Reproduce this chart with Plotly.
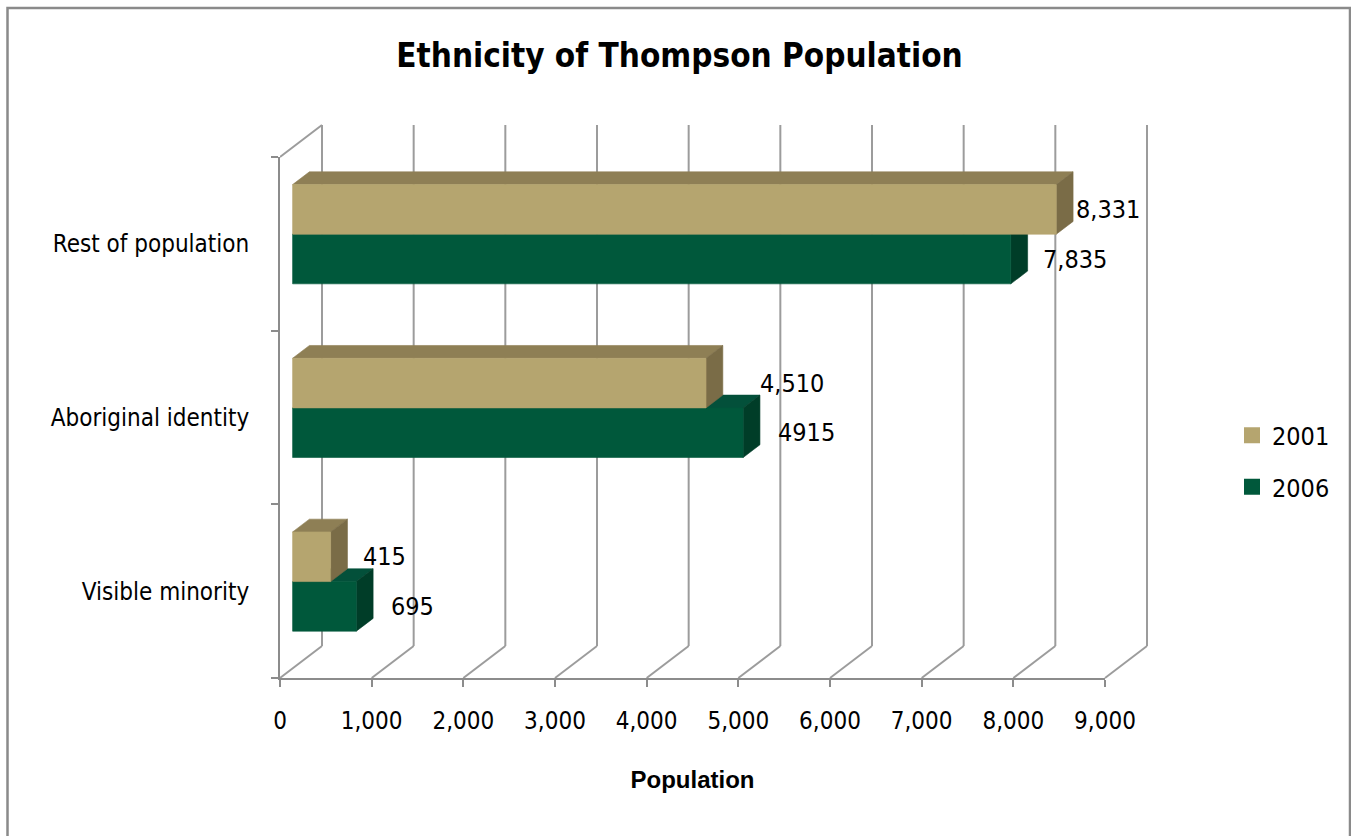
import plotly.graph_objects as go

# ---- data -------------------------------------------------------------
categories = ["Visible minority", "Aboriginal identity", "Rest of population"]
series_names = ["2001", "2006"]
pop_2001 = [415, 4510, 8331]
pop_2006 = [695, 4915, 7835]
labels_2001 = ["415", "4,510", "8,331"]
labels_2006 = ["695", "4915", "7,835"]
x_ticks = list(range(0, 9001, 1000))

# ---- styling ----------------------------------------------------------
W, H = 1351, 836
NARROW = "DejaVu Sans Condensed, Liberation Sans Narrow, Arial Narrow, sans-serif"
BOLD = "Liberation Sans, Arial, sans-serif"
GRID = "#9c9c9c"
AXIS = "#8c8c8c"
FACES = {
    "2001": dict(front="#B5A56F", top="#8E7F55", side="#7A6C47"),
    "2006": dict(front="#00583B", top="#03503A", side="#003D28"),
}
# horizontal nudge (px) of each value label from its bar end
NUDGE = {"2001": [30, 52, 18], "2006": [33, 33, 30]}

# pixel frame of the front (value) axes
X0_PX, X9_PX = 280, 1105       # value 0 and 9000
YB_PX, YT_PX = 678, 157        # bottom and top of the category axis
PXV = (X9_PX - X0_PX) / 9000.0  # px per population unit
PXC = (YB_PX - YT_PX) / 3.0     # px per category

# oblique depth of the 3-D box, in data units
DEPTH_PX = (42, 32)
DX = DEPTH_PX[0] / PXV
DY = DEPTH_PX[1] / PXC
BAR_FRONT, BAR_DEPTH = 0.3, 0.4   # fraction of box depth
BAR_H = 0.5 / 1.75                 # gap width 75 %

# drawing subplot extents (px)
A_L, A_R, A_T, A_B = 280, 1160, 118, 690

fig = go.Figure()

def poly(xs, ys, color):
    fig.add_trace(go.Scatter(
        x=xs + [xs[0]], y=ys + [ys[0]], mode="lines", fill="toself",
        fillcolor=color, line=dict(color=color, width=0.6),
        hoverinfo="skip", showlegend=False, xaxis="x", yaxis="y"))

def seg(x0, y0, x1, y1):
    fig.add_trace(go.Scatter(
        x=[x0, x1], y=[y0, y1], mode="lines",
        line=dict(color=GRID, width=2), hoverinfo="skip",
        showlegend=False, xaxis="x", yaxis="y"))

# back wall gridlines and floor diagonals
for v in x_ticks:
    seg(v + DX, DY, v + DX, 3 + DY)
    seg(v, 0, v + DX, DY)
# left wall top edge
seg(0, 3, DX, 3 + DY)

# bars: each is a front face plus a top and a right side face
fx = BAR_FRONT * DX
fy = BAR_FRONT * DY
bx = BAR_DEPTH * DX
by = BAR_DEPTH * DY
series = [("2006", pop_2006, labels_2006, -1), ("2001", pop_2001, labels_2001, 0)]
annotations = []
for name, vals, labs, slot in series:
    c = FACES[name]
    for i, v in enumerate(vals):
        y0 = i + 0.5 + fy + slot * BAR_H
        y1 = y0 + BAR_H
        xs, xe = fx, fx + v
        poly([xs, xe, xe + bx, xs + bx], [y1, y1, y1 + by, y1 + by], c["top"])
        poly([xe, xe + bx, xe + bx, xe], [y0, y0 + by, y1 + by, y1], c["side"])
        poly([xs, xe, xe, xs], [y0, y0, y1, y1], c["front"])
        annotations.append(dict(
            x=xe, y=(y0 + y1) / 2, xref="x", yref="y", text=labs[i],
            showarrow=False, xanchor="left", yanchor="middle",
            xshift=NUDGE[name][i], font=dict(family=NARROW, size=25, color="#000")))

# legend entries
for name in series_names:
    fig.add_trace(go.Scatter(
        x=[None], y=[None], mode="markers", name=name, legendgroup=name,
        marker=dict(symbol="square", size=16, color=FACES[name]["front"]),
        xaxis="x", yaxis="y"))

# empty trace so the front axes subplot is drawn
fig.add_trace(go.Scatter(x=[None], y=[None], xaxis="x2", yaxis="y2",
                         showlegend=False, hoverinfo="skip"))

fig.update_layout(
    width=W, height=H,
    margin=dict(l=0, r=0, t=0, b=0, autoexpand=False),
    paper_bgcolor="white", plot_bgcolor="rgba(0,0,0,0)",
    title=dict(text="<b>Ethnicity of Thompson Population</b>",
               x=679.5 / W, xanchor="center", y=1 - 55 / H, yanchor="middle",
               font=dict(family=NARROW, size=33, color="#000")),
    xaxis=dict(domain=[A_L / W, A_R / W], automargin=False,
               range=[0, (A_R - X0_PX) / PXV], visible=False, fixedrange=True),
    yaxis=dict(domain=[1 - A_B / H, 1 - A_T / H], automargin=False,
               range=[-(A_B - YB_PX) / PXC, (YB_PX - A_T) / PXC],
               visible=False, fixedrange=True),
    xaxis2=dict(domain=[X0_PX / W, X9_PX / W], range=[0, 9000], anchor="y2",
                automargin=False,
                showline=True, linecolor=AXIS, linewidth=2,
                ticks="outside", ticklen=7, tickwidth=2, tickcolor=AXIS,
                ticklabelstandoff=13,
                tickmode="array", tickvals=x_ticks, tickformat=",",
                tickfont=dict(family=NARROW, size=24, color="#000"),
                showgrid=False, zeroline=False, fixedrange=True,
                title=dict(text="<b>Population</b>", standoff=37,
                           font=dict(family=BOLD, size=24, color="#000"))),
    yaxis2=dict(domain=[1 - YB_PX / H, 1 - YT_PX / H], range=[0, 3], anchor="x2",
                automargin=False,
                showline=True, linecolor=AXIS, linewidth=2,
                tickmode="array", tickvals=[0.5, 1.5, 2.5], ticktext=categories,
                ticks="outside", ticklen=24, tickcolor="rgba(0,0,0,0)",
                tickfont=dict(family=NARROW, size=24, color="#000"),
                minor=dict(tickmode="array", tickvals=[0, 1, 2, 3],
                           ticks="outside", ticklen=7, tickwidth=2, tickcolor=AXIS),
                showgrid=False, zeroline=False, fixedrange=True),
    legend=dict(x=1232 / W, xanchor="left", y=1 - 461 / H, yanchor="middle",
                font=dict(family=NARROW, size=25, color="#000"),
                tracegroupgap=16, bgcolor="rgba(0,0,0,0)"),
    annotations=annotations,
    shapes=[dict(type="rect", xref="paper", yref="paper",
                 x0=7.5 / W, x1=1350 / W, y0=-0.05, y1=1 - 8 / H,
                 line=dict(color="#8a8a8a", width=2.5))],
)

fig.write_html("out.html")
